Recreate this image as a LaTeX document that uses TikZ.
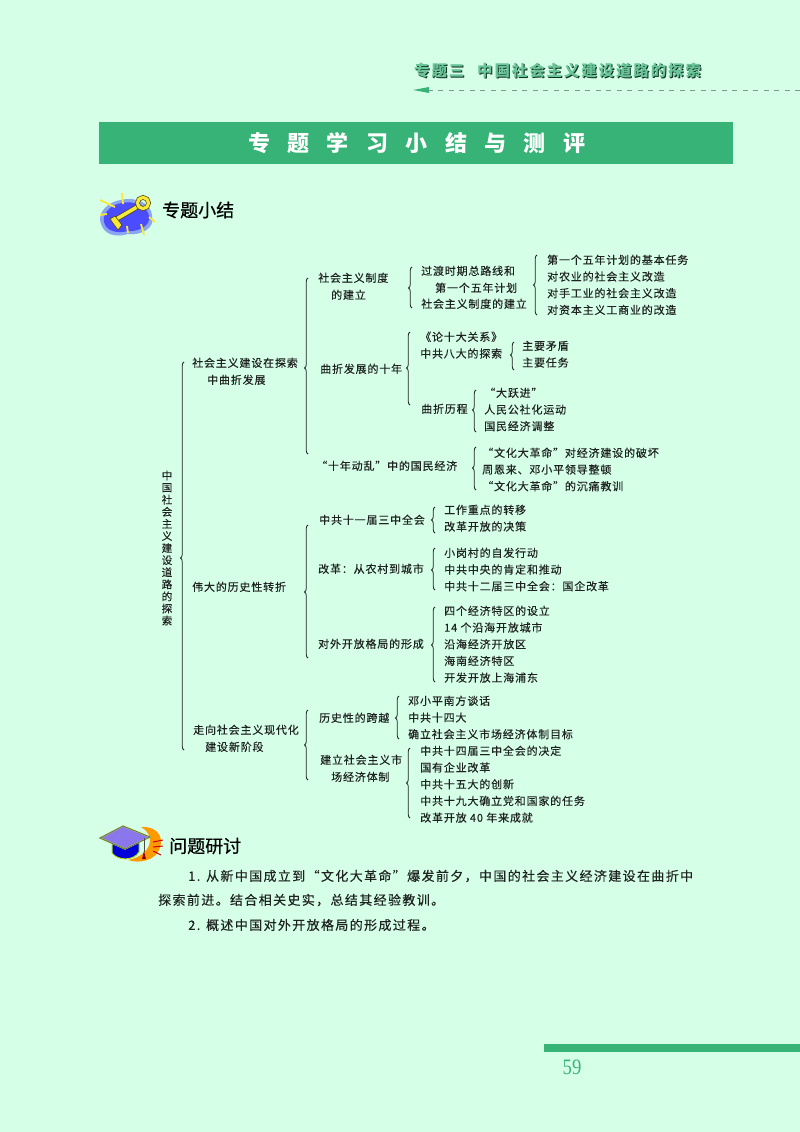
\documentclass[tikz,border=0pt]{standalone}
\usepackage{fontspec}
\usepackage{xcolor}
\usepackage{tikz}
\usetikzlibrary{arrows,positioning,decorations.pathreplacing}
\newfontfamily\cjkbody[LetterSpace=7.5,FakeBold=0.2]{Noto Sans CJK SC}
\newfontfamily\cjkpara[LetterSpace=10.5,FakeBold=0.2]{Noto Sans CJK SC}
\newfontfamily\cjkhead[LetterSpace=12]{Noto Sans CJK SC}
\newfontfamily\cjktitle[LetterSpace=79]{Noto Sans CJK SC}
\newfontfamily\cjkplain[FakeBold=0.6]{Noto Sans CJK SC}
\newfontfamily\pagefont{Liberation Serif}
\definecolor{pagebg}{HTML}{D6FFE8}
\definecolor{bandgreen}{HTML}{37B377}
\definecolor{inkdark}{HTML}{1E2220}
\definecolor{keyyellow}{HTML}{F7E83A}
\tikzstyle{item} =
[
	anchor=west,inner sep=0pt,text=inkdark,text height=10pt,text depth=2pt,
	font=\cjkbody\fontsize{11}{12}\selectfont
]
\tikzstyle{para} =
[
	anchor=west,inner sep=0pt,text=inkdark,
	font=\cjkpara\fontsize{13}{14}\selectfont
]
\tikzstyle{sect} =
[
	anchor=west,inner sep=0pt,text=black,
	font=\cjkplain\fontsize{18}{20}\selectfont
]
\tikzset{
	nextto/.style={below=16.7pt of #1.west,anchor=west},
	bracket/.style={decorate,decoration={brace,mirror,amplitude=3.5pt,aspect=#1},
		draw=inkdark,line width=.8pt},
	headtext/.style={anchor=west,inner sep=0pt,font=\cjkhead\bfseries\fontsize{15.5}{17}\selectfont}
}

\begin{document}
\begin{tikzpicture}[x=1pt,y=-1pt]
\useasboundingbox (0,0) rectangle (800,1132);
\fill[pagebg] (0,0) rectangle (800,1132);

% running head
\node[headtext,text=black!75!bandgreen](hdAs) at (415,72) {专题三};
\node[headtext,text=black!75!bandgreen](hdBs) at (478,72) {中国社会主义建设道路的探索};
\node[headtext,text=bandgreen!75!white](hdA) at (414,71) {专题三};
\node[headtext,text=bandgreen!75!white](hdB) at (477,71) {中国社会主义建设道路的探索};
\coordinate (ruleR) at (800,90);
\coordinate (ruleL) at (429,90);
\coordinate (ruleT) at (413,90);
\draw[dash pattern=on 5pt off 5.5pt,line width=.8pt,draw=black!40!pagebg] (ruleR) -- (ruleL);
\fill[bandgreen] (ruleT) -- (429,87) -- (429,93) -- cycle;

\fill[bandgreen] (99,122) rectangle (733,164);
\node[anchor=west,inner sep=0pt,text=white,font=\cjktitle\bfseries\fontsize{22}{24}\selectfont](title) at (248,143) {专题学习小结与测评};

% key
\fill[blue!35!pagebg] (101,224) .. controls (96,213) and (109,201) .. (121,200)
	.. controls (136,196) and (152,204) .. (152,216) .. controls (156,228) and (140,236) .. (128,234)
	.. controls (115,238) and (104,234) .. (101,224) -- cycle;
\fill[blue!70!white] (104,222) .. controls (102,213) and (112,204) .. (122,203)
	.. controls (134,200) and (148,207) .. (149,216) .. controls (151,226) and (138,232) .. (128,231)
	.. controls (117,234) and (106,231) .. (104,222) -- cycle;
\foreach \xa/\ya/\xb/\yb in {100/200/115/207,122/193/123/204,149/217/155/222,141/224/144/235,127/226/128/233,100/215/107/214}
	\draw[keyyellow,line width=1.8pt] (\xa,\ya) -- (\xb,\yb);
\draw[black!70!keyyellow,line width=5pt] (137,207) -- (113,221);
\draw[keyyellow,line width=3.6pt] (137,207) -- (113,221);
\fill[keyyellow,draw=black!70!keyyellow,line width=.6pt] (110,219) -- (115,216) -- (122,225) -- (118,230) -- (115,226) -- cycle;
\draw[black!70!keyyellow,line width=4.6pt] (143,203) circle (5.6pt);
\draw[keyyellow,line width=3.2pt] (143,203) circle (5.6pt);
\node[sect](sectA) at (162,210) {专题小结};

% overview braces
\foreach \name/\bx/\ytop/\ybot/\ytip in {
	root/184/362/750/558,
	lvA/308/278/454/368,
	lvB/308/525/658/592,
	lvC/308/710/780/745,
	sysA/412/267/308/288,
	sysB/537/255/315/285,
	decA/410/332/405/368,
	decB/514/342/370/355,
	decC/476/390/432/410,
	decD/476/447/490/468,
	turnA/435/507/533/520,
	turnB/435/548/590/570,
	turnC/435/607/682/645,
	newA/399/696/739/718,
	newB/410/748/818/783}
{
	\pgfmathsetmacro{\asp}{(\ytip-\ytop)/(\ybot-\ytop)}
	\coordinate (\name T) at (\bx,\ytop);
	\coordinate (\name B) at (\bx,\ybot);
	\draw[bracket=\asp] (\name T) -- (\name B);
}

\node[anchor=center,inner sep=0pt,align=center,text=inkdark,font=\cjkbody\fontsize{10.6}{12.1}\selectfont](rootL) at (167,548)
	{中\\国\\社\\会\\主\\义\\建\\设\\道\\路\\的\\探\\索};

\node[item](main1) at (192,363) {社会主义建设在探索};
\node[item](main1b) at (207,380) {中曲折发展};
\node[item](main2) at (192,587) {伟大的历史性转折};
\node[item](main3) at (193,730) {走向社会主义现代化};
\node[item](main3b) at (205,747) {建设新阶段};
%
\node[item](sys) at (318,278) {社会主义制度};
\node[item](sysb) at (331,295) {的建立};
\node[item](tran) at (421,271) {过渡时期总路线和};
\node[item](tranb) at (435,288) {第一个五年计划};
\node[item](tranc) at (421,304) {社会主义制度的建立};
\node[item](plan1) at (547,260) {第一个五年计划的基本任务};
\node[item,nextto=plan1](plan2) {对农业的社会主义改造};
\node[item,nextto=plan2](plan3) {对手工业的社会主义改造};
\node[item,nextto=plan3](plan4) {对资本主义工商业的改造};
%
\node[item](decade) at (320,369) {曲折发展的十年};
\node[item](lun) at (420,337) {《论十大关系》};
\node[item,nextto=lun](bada) {中共八大的探索};
\node[item](maodun) at (522,346) {主要矛盾};
\node[item,nextto=maodun](renwu) {主要任务};
\node[item](licheng) at (421,409) {曲折历程};
\node[item](yue1) at (484,393) {“大跃进”};
\node[item,nextto=yue1](yue2) {人民公社化运动};
\node[item,nextto=yue2](yue3) {国民经济调整};
%
\node[item](luan) at (316,466) {“十年动乱”中的国民经济};
\node[item](wen1) at (482,453) {“文化大革命”对经济建设的破坏};
\node[item,nextto=wen1](wen2) {周恩来、邓小平领导整顿};
\node[item,nextto=wen2](wen3) {“文化大革命”的沉痛教训};
%
\node[item](plenum) at (319,520) {中共十一届三中全会};
\node[item](zhong1) at (444,510) {工作重点的转移};
\node[item,nextto=zhong1](zhong2) {改革开放的决策};
\node[item](reform) at (318,569) {改革：从农村到城市};
\node[item](gai1) at (444,553) {小岗村的自发行动};
\node[item,nextto=gai1](gai2) {中共中央的肯定和推动};
\node[item,nextto=gai2](gai3) {中共十二届三中全会：国企改革};
\node[item](opening) at (318,644) {对外开放格局的形成};
\node[item](kai1) at (444,611) {四个经济特区的设立};
\node[item,nextto=kai1](kai2) {14 个沿海开放城市};
\node[item,nextto=kai2](kai3) {沿海经济开放区};
\node[item,nextto=kai3](kai4) {海南经济特区};
\node[item,nextto=kai4](kai5) {开发开放上海浦东};
%
\node[item](leap) at (319,718) {历史性的跨越};
\node[item](deng1) at (408,701) {邓小平南方谈话};
\node[item,nextto=deng1](deng2) {中共十四大};
\node[item,nextto=deng2](deng3) {确立社会主义市场经济体制目标};
\node[item](market) at (320,760) {建立社会主义市};
\node[item](marketb) at (331,777) {场经济体制};
\node[item](shi1) at (420,751) {中共十四届三中全会的决定};
\node[item,nextto=shi1](shi2) {国有企业改革};
\node[item,nextto=shi2](shi3) {中共十五大的创新};
\node[item,nextto=shi3](shi4) {中共十九大确立党和国家的任务};
\node[item,nextto=shi4](shi5) {改革开放 40 年来成就};

% cap
\fill[orange!80!yellow] (141,827) .. controls (160,826) and (165,840) .. (158,852)
	.. controls (153,860) and (140,864) .. (128,860) .. controls (140,858) and (150,850) .. (150,840)
	.. controls (150,834) and (146,830) .. (141,827) -- cycle;
\fill[blue!85!black,draw=yellow!70!green,line width=1pt] (112,842) -- (112,853) .. controls (118,861) and (134,861) .. (139,852) -- (139,842) -- cycle;
\fill[blue!45!white!85!violet,draw=yellow!70!green,line width=1.4pt] (100,838) -- (123,826) -- (150,837) -- (125,849) -- cycle;
\draw[black!60,line width=.7pt] (100,838) -- (123,826) -- (150,837) -- (125,849) -- cycle;
\draw[black!70,line width=.8pt] (144,838) -- (144,852);
\fill[red!55!black] (144,851) -- (146,859) -- (142,859) -- cycle;
\foreach \xa/\ya/\xb/\yb in {153/842/163/840,153/847/163/846,153/851/161/855}
	\draw[red!80!black,line width=1pt] (\xa,\ya) -- (\xb,\yb);
\node[sect](sectB) at (169,846) {问题研讨};

\node[para](ques1) at (188,876) {1. 从新中国成立到“文化大革命”爆发前夕，中国的社会主义经济建设在曲折中};
\node[para](ques1b) at (158,900) {探索前进。结合相关史实，总结其经验教训。};
\node[para](ques2) at (188,925) {2. 概述中国对外开放格局的形成过程。};

\fill[bandgreen] (544,1044) rectangle (800,1052);
\node[inner sep=0pt,text=bandgreen,xscale=.85,font=\pagefont\fontsize{22}{24}\selectfont](pageno) at (572,1067) {59};

\end{tikzpicture}
\end{document}
